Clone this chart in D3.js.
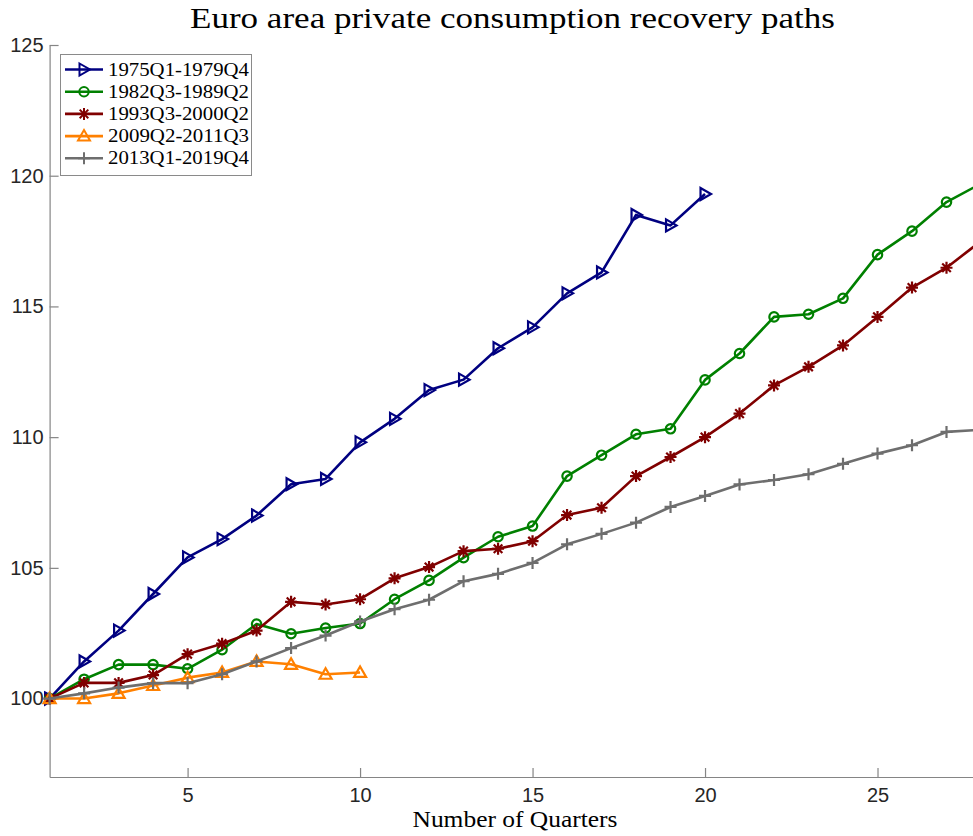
<!DOCTYPE html>
<html>
<head>
<meta charset="utf-8">
<script src="https://cdn.jsdelivr.net/npm/d3@7"></script>
<style>
  body { margin: 0; background: #fff; }
  svg { display: block; }
</style>
</head>
<body>
<div id="chart"></div>
<script>
// quarter index since the start of each recovery
const quarters = d3.range(1, 29)

const seriesNames = ["1975Q1-1979Q4", "1982Q3-1989Q2", "1993Q3-2000Q2", "2009Q2-2011Q3", "2013Q1-2019Q4"]

const path1975 = [100, 101.42, 102.6, 104.0, 105.4, 106.1, 107.0, 108.2, 108.4, 109.8, 110.7, 111.8, 112.2, 113.4,
  114.2, 115.5, 116.3, 118.5, 118.1, 119.3]
const path1982 = [100, 100.74, 101.3, 101.3, 101.14, 101.87, 102.85, 102.48, 102.7, 102.87, 103.8, 104.52, 105.39, 106.19,
  106.6, 108.51, 109.31, 110.11, 110.32, 112.19, 113.2, 114.6, 114.7, 115.31, 116.98, 117.88, 118.99, 119.7]
const path1993 = [100, 100.6, 100.6, 100.9, 101.7, 102.1, 102.6, 103.7, 103.6, 103.8, 104.6, 105.03, 105.64, 105.73,
  106.02, 107.02, 107.3, 108.51, 109.24, 110.0, 110.9, 111.98, 112.69, 113.51, 114.6, 115.72, 116.48, 117.5]
const path2009 = [100, 100.0, 100.2, 100.5, 100.8, 101.0, 101.42, 101.31, 100.93, 101.0]
const path2013 = [100, 100.2, 100.42, 100.59, 100.59, 100.93, 101.42, 101.93, 102.41, 102.95, 103.42, 103.78, 104.49, 104.77,
  105.19, 105.9, 106.3, 106.73, 107.33, 107.75, 108.19, 108.36, 108.58, 108.98, 109.37, 109.69, 110.2, 110.28]

const xTicks = [5, 10, 15, 20, 25]
const yTicks = [100, 105, 110, 115, 120, 125]

const seriesValues = [path1975, path1982, path1993, path2009, path2013]
const colors = ["#000080", "#008000", "#800000", "#ff8000", "#6e6e6e"]
const markers = ["right", "circle", "star", "up", "plus"]

const width = 973, height = 836
const svg = d3.select("#chart").append("svg").attr("width", width).attr("height", height)

// axes box; the right side runs past the window edge like in the original
const x = d3.scaleLinear().domain([1, 28]).range([49.6, 981])
const y = d3.scaleLinear().domain([97, 125]).range([777, 45])

const axisColor = "#858585", labelColor = "#262626"
const sans = "'Liberation Sans', Arial, sans-serif"
const serif = "'Liberation Serif', 'Times New Roman', serif"

// x axis, ticks inward
const gx = svg.append("g").attr("transform", `translate(0,${y(97)})`)
  .call(d3.axisBottom(x).tickValues(xTicks).tickSizeInner(-9).tickSizeOuter(0).tickPadding(11))
gx.select(".domain").attr("stroke", axisColor).attr("stroke-width", 1.2)
gx.selectAll(".tick line").attr("stroke", axisColor).attr("stroke-width", 1.2)
gx.selectAll(".tick text").attr("fill", labelColor).style("font-family", sans).style("font-size", "20px")

// y axis
const gy = svg.append("g").attr("transform", `translate(${x(1)},0)`)
  .call(d3.axisLeft(y).tickValues(yTicks).tickSizeInner(-9).tickSizeOuter(0).tickPadding(6))
gy.select(".domain").attr("stroke", axisColor).attr("stroke-width", 1.2)
gy.selectAll(".tick line").attr("stroke", axisColor).attr("stroke-width", 1.2)
gy.selectAll(".tick text").attr("fill", labelColor).style("font-family", sans).style("font-size", "20px")

// marker shapes, roughly like matlab's > o * ^ +
function markerPath(kind) {
  switch (kind) {
    case "right": return "M-4.5,-6L6,0L-4.5,6Z"
    case "up": return "M-6,4.5L0,-6L6,4.5Z"
    case "circle": return d3.arc()({innerRadius: 0, outerRadius: 4.7, startAngle: 0, endAngle: 2 * Math.PI})
    case "plus": return "M-6,0L6,0M0,-6L0,6"
    case "star": return "M-6,0L6,0M0,-6L0,6M-4.3,-4.3L4.3,4.3M-4.3,4.3L4.3,-4.3"
  }
}

const line = d3.line().x((d, i) => x(quarters[i])).y(d => y(d))

seriesValues.forEach((values, k) => {
  const g = svg.append("g")
  g.append("path")
    .attr("d", line(values))
    .attr("fill", "none")
    .attr("stroke", colors[k])
    .attr("stroke-width", 2.6)
    .attr("stroke-linejoin", "round")
  g.selectAll(".mark")
    .data(values)
    .enter().append("path")
      .attr("class", "mark")
      .attr("transform", (d, i) => `translate(${x(quarters[i])},${y(d)})`)
      .attr("d", markerPath(markers[k]))
      .attr("fill", "none")
      .attr("stroke", colors[k])
      .attr("stroke-width", 2.2)
})

// legend
const legend = svg.append("g")
legend.append("rect")
  .attr("x", 60.5).attr("y", 54.5).attr("width", 191).attr("height", 121)
  .attr("fill", "#fff").attr("stroke", "#8a8a8a").attr("stroke-width", 1)
seriesNames.forEach((name, k) => {
  const cy = 69.5 + k * 22.2
  legend.append("line")
    .attr("x1", 65).attr("x2", 103).attr("y1", cy).attr("y2", cy)
    .attr("stroke", colors[k]).attr("stroke-width", 2.6)
  legend.append("path")
    .attr("transform", `translate(84,${cy})`)
    .attr("d", markerPath(markers[k]))
    .attr("fill", "none").attr("stroke", colors[k]).attr("stroke-width", 2)
  legend.append("text")
    .attr("x", 108).attr("y", cy + 6)
    .attr("textLength", 141).attr("lengthAdjust", "spacingAndGlyphs")
    .style("font-family", serif).style("font-size", "19px")
    .text(name)
})

svg.append("text")
  .attr("x", 512.5).attr("y", 28)
  .attr("text-anchor", "middle")
  .attr("textLength", 645).attr("lengthAdjust", "spacingAndGlyphs")
  .style("font-family", serif).style("font-size", "29px")
  .text("Euro area private consumption recovery paths")

svg.append("text")
  .attr("x", 515).attr("y", 827)
  .attr("text-anchor", "middle")
  .attr("textLength", 205).attr("lengthAdjust", "spacingAndGlyphs")
  .style("font-family", serif).style("font-size", "24px")
  .text("Number of Quarters")
</script>
</body>
</html>
